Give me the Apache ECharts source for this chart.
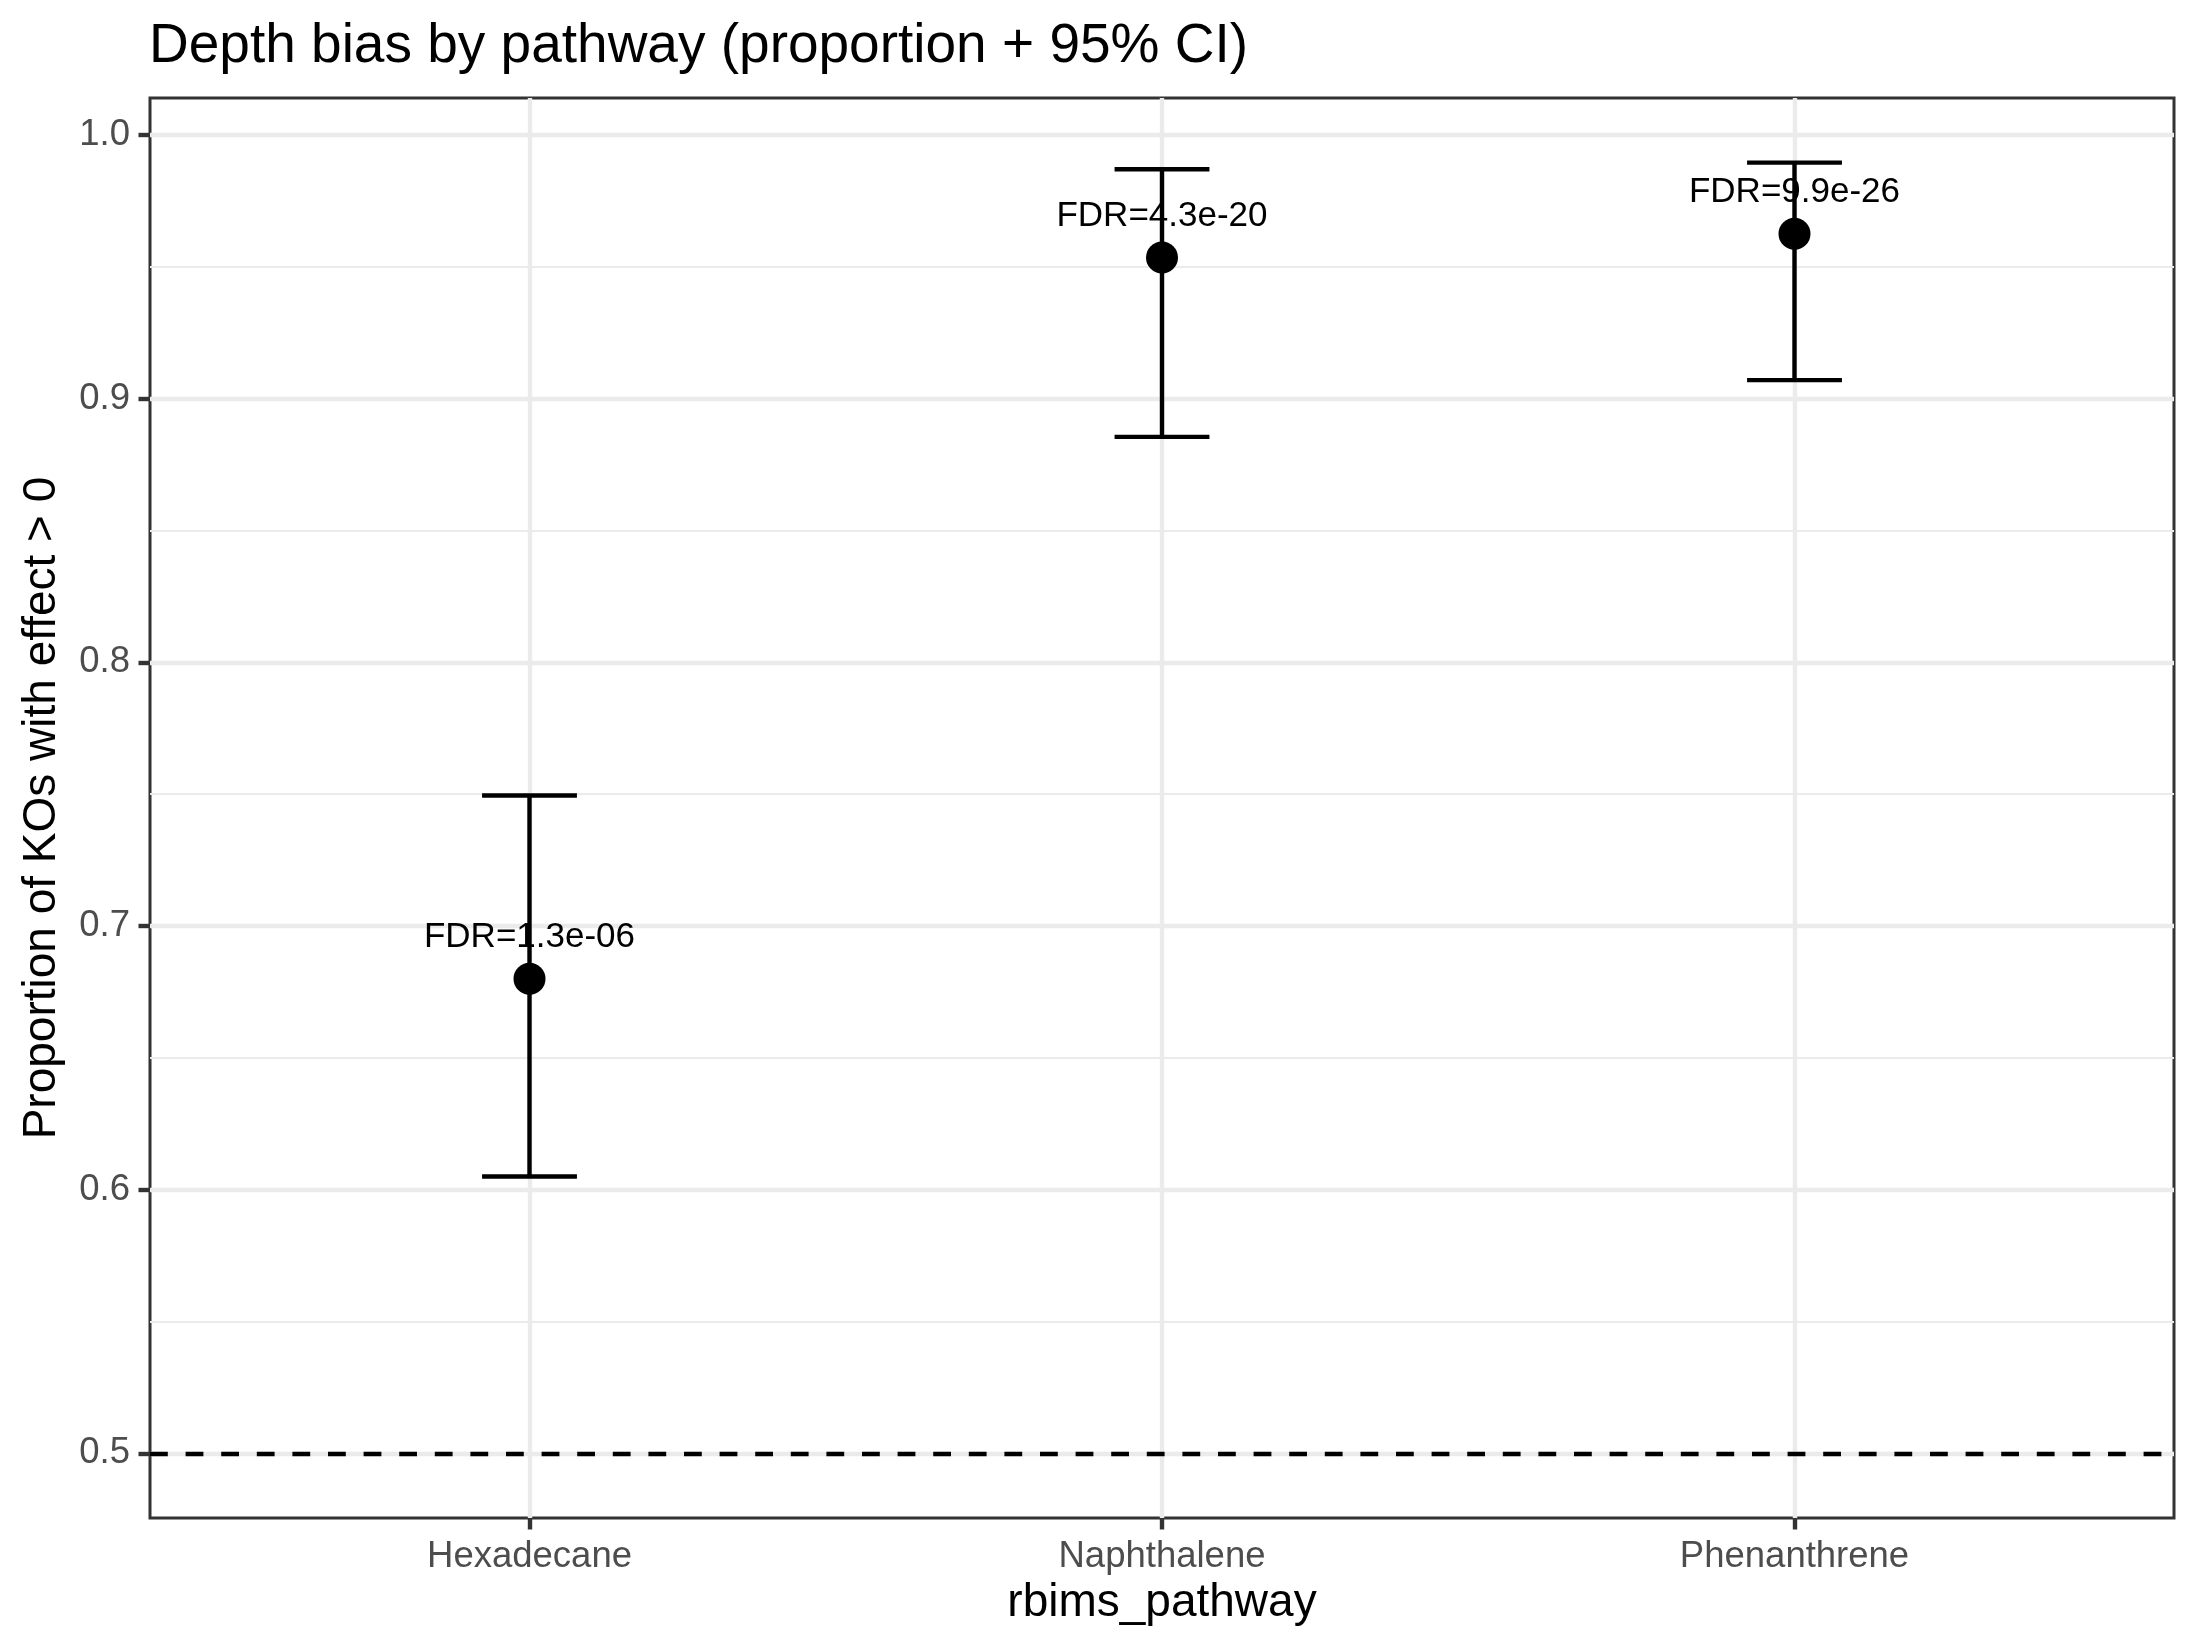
<!DOCTYPE html>
<html>
<head>
<meta charset="utf-8">
<script src="https://cdn.jsdelivr.net/npm/echarts@6/dist/echarts.min.js"></script>
<style>
  html, body { margin: 0; padding: 0; background: #fff; }
  #chart { width: 2199px; height: 1650px; }
</style>
</head>
<body>
<div id="chart"></div>
<script>
// ---- data ----
const categories = ['Hexadecane', 'Naphthalene', 'Phenanthrene'];
const proportion = [0.680, 0.9535, 0.9625];
const ciLower = [0.605, 0.8855, 0.907];
const ciUpper = [0.7495, 0.987, 0.9895];
const fdrLabels = ['FDR=1.3e-06', 'FDR=4.3e-20', 'FDR=9.9e-26'];
const yMajorTicks = [0.5, 0.6, 0.7, 0.8, 0.9, 1.0];
const yMinorTicks = [0.55, 0.65, 0.75, 0.85, 0.95];
const xTicks = [1, 2, 3];
const nullLine = 0.5;

const FONT = '"Liberation Sans", Arial, Helvetica, sans-serif';

const chart = echarts.init(document.getElementById('chart'), null, { renderer: 'canvas' });

const pointData = categories.map((c, i) => [i + 1, proportion[i]]);
const errData = categories.map((c, i) => [i + 1, ciLower[i], ciUpper[i]]);

const gridLines = [];
yMinorTicks.forEach(v => gridLines.push({ yAxis: v, lineStyle: { color: '#ebebeb', width: 2.2, type: 'solid' } }));
yMajorTicks.forEach(v => gridLines.push({ yAxis: v, lineStyle: { color: '#ebebeb', width: 4.4, type: 'solid' } }));
xTicks.forEach(v => gridLines.push({ xAxis: v, lineStyle: { color: '#ebebeb', width: 4.4, type: 'solid' } }));

const option = {
  animation: false,
  backgroundColor: '#ffffff',
  title: {
    text: 'Depth bias by pathway (proportion + 95% CI)',
    left: 149,
    top: 19,
    padding: 0,
    textStyle: { fontFamily: FONT, fontSize: 55, fontWeight: 'normal', color: '#000' }
  },
  grid: {
    left: 150, right: 25, top: 98, bottom: 132,
    show: true, borderColor: '#333333', borderWidth: 3, backgroundColor: 'transparent'
  },
  xAxis: {
    type: 'value',
    min: 0.4, max: 3.6,
    name: 'rbims_pathway',
    nameLocation: 'middle',
    nameGap: 62,
    nameTextStyle: { fontFamily: FONT, fontSize: 46, color: '#000' },
    axisLine: { show: false },
    splitLine: { show: false },
    axisTick: { show: true, customValues: xTicks, length: 11.5, lineStyle: { color: '#333', width: 4.4 } },
    axisLabel: {
      customValues: xTicks, margin: 20,
      fontFamily: FONT, fontSize: 36.5, color: '#4d4d4d',
      formatter: v => categories[Math.round(v) - 1] || ''
    }
  },
  yAxis: {
    type: 'value',
    min: 0.4755, max: 1.014,
    name: 'Proportion of KOs with effect > 0',
    nameLocation: 'middle',
    nameGap: 85,
    nameTextStyle: { fontFamily: FONT, fontSize: 46, color: '#000' },
    axisLine: { show: false },
    splitLine: { show: false },
    axisTick: { show: true, customValues: yMajorTicks, length: 11.5, lineStyle: { color: '#333', width: 4.4 } },
    axisLabel: {
      customValues: yMajorTicks, margin: 20,
      fontFamily: FONT, fontSize: 36.5, color: '#4d4d4d',
      formatter: v => v.toFixed(1)
    }
  },
  series: [
    {
      type: 'line', data: [], z: 1, silent: true,
      markLine: { z: 1, silent: true, symbol: ['none', 'none'], label: { show: false }, animation: false, data: gridLines }
    },
    {
      type: 'line', data: [], z: 2, silent: true,
      markLine: {
        z: 2, silent: true, symbol: ['none', 'none'], label: { show: false }, animation: false,
        data: [{ yAxis: nullLine, lineStyle: { color: '#000', width: 4.4, type: [17.8, 17.8] } }]
      }
    },
    {
      type: 'custom', z: 3, silent: true,
      data: errData,
      encode: { x: 0, y: [1, 2] },
      renderItem: function (params, api) {
        const x = api.value(0);
        const lo = api.coord([x, api.value(1)]);
        const hi = api.coord([x, api.value(2)]);
        const half = api.size([0.075, 0])[0];
        const style = { stroke: '#000', lineWidth: 4.4, fill: null, opacity: 1 };
        return {
          type: 'group',
          children: [
            { type: 'line', shape: { x1: lo[0], y1: lo[1], x2: hi[0], y2: hi[1] }, style },
            { type: 'line', shape: { x1: lo[0] - half, y1: lo[1], x2: lo[0] + half, y2: lo[1] }, style },
            { type: 'line', shape: { x1: hi[0] - half, y1: hi[1], x2: hi[0] + half, y2: hi[1] }, style }
          ]
        };
      }
    },
    {
      type: 'scatter', z: 4, silent: true,
      data: pointData,
      symbol: 'circle', symbolSize: 32,
      itemStyle: { color: '#000', opacity: 1 },
      label: {
        show: true, position: 'inside', offset: [0, -41],
        formatter: p => fdrLabels[p.dataIndex],
        fontFamily: FONT, fontSize: 35, color: '#000', opacity: 1,
        textBorderWidth: 0,
        align: 'center', verticalAlign: 'middle'
      }
    }
  ]
};
chart.setOption(option);
</script>
</body>
</html>
